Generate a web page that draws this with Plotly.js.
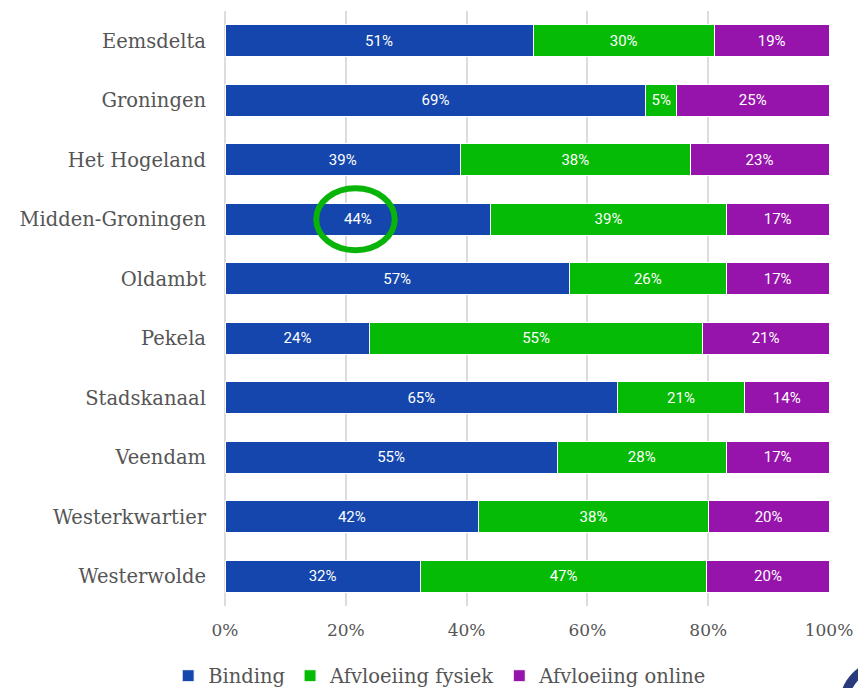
<!DOCTYPE html>
<html>
<head>
<meta charset="utf-8">
<script src="https://cdn.plot.ly/plotly-3.0.1.min.js"></script>
<style>
  html, body { margin: 0; padding: 0; background: #fff; }
  #chart { width: 858px; height: 688px; }
</style>
</head>
<body>
<div id="chart"></div>
<script>
// gemeenten, top to bottom
const gemeenten = ['Eemsdelta', 'Groningen', 'Het Hogeland', 'Midden-Groningen', 'Oldambt',
    'Pekela', 'Stadskanaal', 'Veendam', 'Westerkwartier', 'Westerwolde'];

const binding = [51, 69, 39, 44, 57, 24, 65, 55, 42, 32];
const afvloeiingFysiek = [30, 5, 38, 39, 26, 55, 21, 28, 38, 47];
const afvloeiingOnline = [19, 25, 23, 17, 17, 21, 14, 17, 20, 20];

const seriesNames = ['Binding', 'Afvloeiing fysiek', 'Afvloeiing online'];
const seriesColors = ['#1446ad', '#05bb05', '#9614ab'];
const tickVals = [0, 20, 40, 60, 80, 100];

const serif = '"DejaVu Serif", "Liberation Serif", serif';

const traces = [binding, afvloeiingFysiek, afvloeiingOnline].map((vals, i) => ({
    type: 'bar',
    orientation: 'h',
    name: seriesNames[i],
    y: gemeenten,
    x: vals,
    text: vals.map(v => v + '%'),
    textposition: 'inside',
    insidetextanchor: 'middle',
    textangle: 0,
    constraintext: 'none',
    textfont: { family: 'Roboto, sans-serif', size: 15, color: '#ffffff' },
    marker: { color: seriesColors[i], line: { color: '#ffffff', width: 1 } },
    hoverinfo: 'none'
}));

const layout = {
    width: 858,
    height: 688,
    barmode: 'stack',
    barnorm: 'percent',
    bargap: 0.47,
    margin: { l: 225, r: 29, t: 11, b: 82 },
    paper_bgcolor: '#ffffff',
    plot_bgcolor: '#ffffff',
    xaxis: {
        range: [0, 100],
        tickvals: tickVals,
        ticktext: tickVals.map(v => v + '%'),
        showgrid: true,
        gridcolor: '#dcdcdc',
        gridwidth: 2,
        zeroline: true,
        zerolinecolor: '#dcdcdc',
        zerolinewidth: 2,
        showline: false,
        ticks: '',
        ticklen: 0,
        ticklabelstandoff: 12,
        tickfont: { family: serif, size: 17, color: '#555555' },
        fixedrange: true
    },
    yaxis: {
        autorange: 'reversed',
        showgrid: false,
        zeroline: false,
        ticks: '',
        ticklabelstandoff: 18,
        tickfont: { family: serif, size: 19.5, color: '#555555' },
        fixedrange: true
    },
    showlegend: true,
    legend: {
        orientation: 'h',
        xref: 'container',
        yref: 'container',
        x: 0.196,
        xanchor: 'left',
        y: 0.0174,
        yanchor: 'middle',
        font: { family: serif, size: 19.5, color: '#555555' },
        itemwidth: 30,
        tracegroupgap: 0,
        traceorder: 'normal'
    },
    shapes: [
        // green circle around Midden-Groningen binding
        {
            type: 'circle', xref: 'x', yref: 'y',
            x0: 15.1, x1: 28.1, y0: 2.48, y1: 3.52,
            line: { color: '#09b409', width: 6 }
        },
        // partial logo in bottom-right corner
        {
            type: 'circle', xref: 'paper', yref: 'paper',
            x0: 1.0248, x1: 1.1606, y0: -0.2353, y1: -0.0975,
            line: { color: '#2a3b7d', width: 9 }
        }
    ]
};

Plotly.newPlot('chart', traces, layout, { displayModeBar: false, staticPlot: true });
</script>
</body>
</html>
